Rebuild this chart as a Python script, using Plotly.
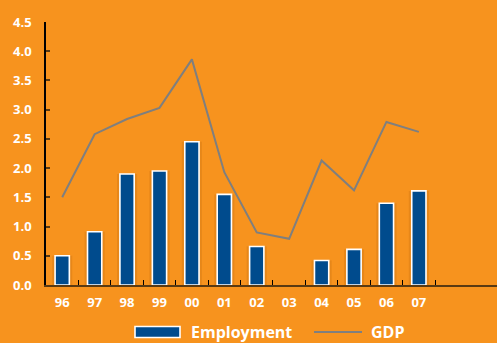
import plotly.graph_objects as go

years = ["96", "97", "98", "99", "00", "01", "02", "03", "04", "05", "06", "07"]
employment = [0.5, 0.91, 1.9, 1.95, 2.45, 1.55, 0.66, None, 0.42, 0.61, 1.4, 1.61]
gdp = [1.5, 2.58, 2.84, 3.03, 3.86, 1.93, 0.9, 0.79, 2.13, 1.62, 2.79, 2.62]

bg = "#F7931E"
font_family = "Open Sans"
bar_color = "#004B8D"
line_color = "#7F7F7F"

fig = go.Figure()

# soft shadow behind bars
fig.add_trace(go.Bar(
    x=years, y=employment, width=0.62,
    marker=dict(color="rgba(150,75,0,0.16)", line=dict(width=0)),
    showlegend=False, hoverinfo="skip",
))
fig.add_trace(go.Bar(
    x=years, y=employment, width=0.44, name="Employment",
    marker=dict(color=bar_color, line=dict(color="white", width=1.6)),
    showlegend=False,
))
fig.add_trace(go.Scatter(
    x=years, y=gdp, mode="lines", name="GDP",
    line=dict(color=line_color, width=2), showlegend=False,
))

# plot-area geometry (pixels) used to place the hand-drawn legend
L, R, T, B = 46, 497, 22, 285
def px(x):
    return (x - L) / (R - L)
def py(y):
    return (B - y) / (B - T)

LEG_Y = 332
shapes = [
    dict(type="rect", xref="paper", yref="paper",
         x0=px(135), x1=px(180), y0=py(LEG_Y + 5.5), y1=py(LEG_Y - 5.5),
         fillcolor=bar_color, line=dict(color="white", width=1.6)),
    dict(type="line", xref="paper", yref="paper",
         x0=px(314), x1=px(362), y0=py(LEG_Y), y1=py(LEG_Y),
         line=dict(color=line_color, width=2)),
]
annotations = [
    dict(text="Employment", xref="paper", yref="paper", x=px(189), y=py(LEG_Y),
         xanchor="left", yanchor="middle", showarrow=False,
         font=dict(size=16, color="white", family=font_family, weight="bold")),
    dict(text="GDP", xref="paper", yref="paper", x=px(369), y=py(LEG_Y),
         xanchor="left", yanchor="middle", showarrow=False,
         font=dict(size=16, color="white", family=font_family, weight="bold")),
]

fig.update_layout(
    width=497, height=343,
    margin=dict(l=L, r=497 - R, t=T, b=343 - B, autoexpand=False),
    paper_bgcolor=bg, plot_bgcolor=bg,
    barmode="overlay",
    font=dict(family=font_family, color="white", size=13),
    showlegend=False,
    shapes=shapes,
    annotations=annotations,
    xaxis=dict(
        type="category", categoryorder="array", categoryarray=years,
        range=[-0.5, 13.41], showgrid=False, zeroline=False,
        showline=True, linecolor="#5A3A12", linewidth=1.5,
        ticks="inside", ticklen=5, tickcolor="black", tickwidth=1,
        tickson="boundaries", ticklabelstandoff=5,
        tickfont=dict(size=13, color="white", family=font_family, weight="bold"),
    ),
    yaxis=dict(
        range=[0, 4.5], tickvals=[0, 0.5, 1, 1.5, 2, 2.5, 3, 3.5, 4, 4.5],
        ticktext=["0.0", "0.5", "1.0", "1.5", "2.0", "2.5", "3.0", "3.5", "4.0", "4.5"],
        showgrid=False, zeroline=False,
        showline=True, linecolor="black", linewidth=1.5,
        ticks="inside", ticklen=4, tickcolor="#5A3A12", tickwidth=1.5,
        ticklabelstandoff=10,
        tickfont=dict(size=13, color="white", family=font_family, weight="bold"),
    ),
)

fig.write_html("out.html")
